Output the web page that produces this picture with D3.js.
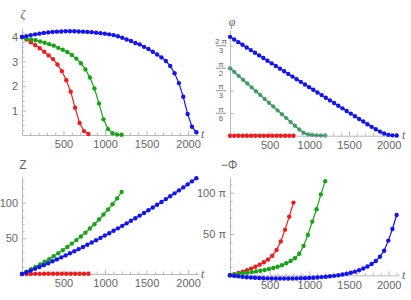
<!DOCTYPE html>
<html><head><meta charset="utf-8">
<script src="https://cdn.jsdelivr.net/npm/d3@7"></script>
<style>body{margin:0;background:#fff}svg{display:block}</style>
</head><body>
<svg id="c" width="411" height="300"></svg>
<script>
// ---------- data ----------
const tEndRed = 800, tEndGreen = 1200, tEndBlue = 2100;
const nRed = 16, nGreen = 23, nBlue = 41;
const xTicks = [500, 1000, 1500, 2000];

const zetaRed   = [4.0,3.9,3.79,3.67,3.54,3.4,3.25,3.1,2.88,2.61,2.24,1.77,1.11,0.49,0.16,0.04];
const zetaGreen = [4.0,3.93,3.9,3.87,3.82,3.77,3.71,3.65,3.56,3.48,3.39,3.27,3.12,2.93,2.68,2.35,1.9,1.29,0.64,0.24,0.07,0.02,0.01];
const zetaBlue  = [4.0,4.04,4.08,4.11,4.14,4.17,4.19,4.21,4.22,4.23,4.24,4.24,4.24,4.23,4.22,4.21,4.2,4.18,4.16,4.14,4.11,
                   4.08,4.03,3.97,3.9,3.84,3.76,3.7,3.6,3.51,3.4,3.29,3.17,3.02,2.82,2.52,2.12,1.56,0.86,0.34,0.11];
const zetaTicks = [1, 2, 3, 4];

const phiRed   = [0,0,0,0,0,0,0,0,0,0,0,0,0,0,0,0];
const phiGreen = [1.571,1.482,1.392,1.303,1.214,1.124,1.035,0.946,0.857,0.767,0.678,0.589,0.499,0.410,0.321,0.232,0.145,0.07,0.03,0.015,0.008,0.005,0.004];
const phiBlue  = [2.30,2.238,2.177,2.115,2.054,1.992,1.930,1.869,1.807,1.746,1.684,1.622,1.561,1.499,1.438,1.376,1.314,1.253,1.191,1.130,1.068,
                  1.006,0.945,0.883,0.822,0.760,0.698,0.637,0.575,0.514,0.452,0.390,0.329,0.267,0.206,0.15,0.095,0.05,0.02,0.008,0.005];
const phiTickMultiples = [1, 2, 3, 4];            // multiples of pi/6
const phiTickLabels = ["π/6", "π/3", "π/2", "2 π/3"];

const zRed   = [0,0.1,0.15,0.2,0.2,0.25,0.25,0.3,0.3,0.3,0.35,0.35,0.35,0.4,0.4,0.4];
const zGreen = [0,3.3,6.6,10.0,13.5,17.1,20.9,24.9,29.1,33.4,37.9,42.6,47.5,52.6,58.0,63.8,69.8,76.4,83.4,90.5,97.8,106,115];
const zBlue  = [0,2.4,4.8,7.3,9.9,12.4,15.1,17.8,20.5,23.3,26.1,29.0,31.9,34.9,37.9,41.0,44.2,47.3,50.6,53.9,57.2,
                60.6,64.0,67.5,71.0,74.6,78.2,81.9,85.6,89.4,93.2,97.1,101.0,105.0,109.0,113.1,117.2,121.4,125.6,129.9,134.2];
const zTicks = [50, 100];

// -Phi in units of pi
const mPhiRed   = [0,1.4,2.8,4.4,6.1,8.1,10.4,12.9,15.8,19.2,23.7,30.6,41,55,71,88];
const mPhiGreen = [0,0.8,1.6,2.4,3.1,3.9,4.7,5.5,6.4,7.6,8.8,10.4,12.1,14.5,17.3,20.6,26,35.5,48.8,65,80,98,114];
const mPhiBlue  = [0,-0.7,-1.3,-1.9,-2.3,-2.7,-3.0,-3.3,-3.5,-3.7,-3.8,-3.85,-3.9,-3.9,-3.9,-3.85,-3.75,-3.6,-3.45,-3.25,-3.0,
                   -2.65,-2.2,-1.75,-1.2,-0.65,0.1,0.9,1.9,3.0,4.4,6.1,8.2,10.7,13.7,17.4,22.5,29.8,42,56,73];
const mPhiTicks = [50, 100];
const mPhiTickLabels = ["50 π", "100 π"];

// ---------- drawing ----------
const colors = {red: "#ee1c1c", green: "#1aa31a", blue: "#1414f0"};
const axisColor = "#b8b8b8", textColor = "#666";
const font = "'Liberation Sans', Arial, sans-serif";
const tRed = d3.range(nRed).map(i => i * tEndRed / (nRed - 1));
const tGreen = d3.range(nGreen).map(i => i * tEndGreen / (nGreen - 1));
const tBlue = d3.range(nBlue).map(i => i * tEndBlue / (nBlue - 1));

const svg = d3.select("#c");

function panel(cfg) {
  const g = svg.append("g");
  const x = d3.scaleLinear().domain([0, cfg.xMax]).range(cfg.xr);
  const y = d3.scaleLinear().domain(cfg.yd).range(cfg.yr);
  const x0 = x(0), y0 = y(0);

  // x axis minor
  const xa = g.append("g").attr("transform", `translate(0,${y0})`);
  xa.call(d3.axisBottom(x).tickValues(d3.range(100, cfg.xMax, 100).filter(v => v % 500 !== 0))
      .tickSizeInner(-2.5).tickSizeOuter(0).tickFormat(""));
  xa.call(g2 => g2.select(".domain").remove());
  const xb = g.append("g").attr("transform", `translate(0,${y0})`);
  xb.call(d3.axisBottom(x).tickValues(xTicks).tickSizeInner(-4).tickSizeOuter(0).tickPadding(5.5)
      .tickFormat(d3.format("d")));
  // y axis minor + major
  const ya = g.append("g").attr("transform", `translate(${x0},0)`);
  ya.call(d3.axisLeft(y).tickValues(cfg.yMinor).tickSizeInner(-2.5).tickSizeOuter(0).tickFormat(""));
  ya.call(g2 => g2.select(".domain").remove());
  const yb = g.append("g").attr("transform", `translate(${x0},0)`);
  yb.call(d3.axisLeft(y).tickValues(cfg.yTicks).tickSizeInner(-4).tickSizeOuter(0).tickPadding(4)
      .tickFormat(cfg.yFormat || d3.format("d")));
  g.selectAll(".domain, .tick line").attr("stroke", axisColor).attr("stroke-width", 1);
  g.selectAll(".tick text").attr("fill", textColor).style("font-family", font).style("font-size", "11px");
  if (cfg.noYText) yb.selectAll(".tick text").remove();

  // axis labels
  g.append("text").attr("x", cfg.tPos[0]).attr("y", cfg.tPos[1]).text("t")
    .attr("fill", textColor).style("font-family", "'Liberation Serif', serif").style("font-style", "italic").style("font-size", "12px");
  g.append("text").attr("x", cfg.lPos[0]).attr("y", cfg.lPos[1]).attr("text-anchor", "middle").text(cfg.label)
    .attr("fill", textColor).style("font-family", cfg.labelItalic ? "'Liberation Serif', serif" : font)
    .style("font-style", cfg.labelItalic ? "italic" : "normal").style("font-size", "12px");

  // series
  const line = d3.line().x(d => x(d[0])).y(d => y(d[1]));
  cfg.series.forEach(s => {
    const pts = s.t.map((t, i) => [t, s.v[i] * (cfg.factor || 1)]);
    const dots = g.append("g");
    dots.selectAll("circle").data(pts).join("circle")
      .attr("cx", d => x(d[0])).attr("cy", d => y(d[1])).attr("r", 2.2).attr("fill", s.dot || s.c);
    g.append("path").datum(pts).attr("d", line).attr("fill", "none").attr("stroke", s.c).attr("stroke-width", 1.2);
    if (!s.dot) g.node().appendChild(dots.node());
  });
  return {g, x, y};
}

// top-left: zeta
panel({xMax: 2120, xr: [22, 198], yd: [0, 4.37], yr: [135, 28],
  yTicks: zetaTicks, yMinor: d3.range(0.2, 4.37, 0.2).filter(v => Math.abs(v - Math.round(v)) > 0.01),
  label: "ζ", labelItalic: true, lPos: [23, 18], tPos: [201, 138],
  series: [{t: tRed, v: zetaRed, c: colors.red}, {t: tGreen, v: zetaGreen, c: colors.green}, {t: tBlue, v: zetaBlue, c: colors.blue}]});

// top-right: phi
const pTR = panel({xMax: 2130, xr: [230, 399], yd: [0, 2.46], yr: [135.7, 30],
  yTicks: phiTickMultiples.map(m => m * Math.PI / 6), yMinor: [], noYText: true,
  label: "φ", labelItalic: true, lPos: [232, 26], tPos: [402, 139],
  series: [{t: tRed, v: phiRed, c: colors.red}, {t: tGreen, v: phiGreen, c: colors.green, dot: "#6f95ad"}, {t: tBlue, v: phiBlue, c: colors.blue}]});
phiTickMultiples.forEach((m, i) => {
  const yy = pTR.y(m * Math.PI / 6), cx = 221;
  const [num, den] = phiTickLabels[i].split("/");
  const st = s => s.attr("fill", textColor).attr("text-anchor", "middle").style("font-family", font).style("font-size", "8px");
  pTR.g.append("text").attr("x", cx).attr("y", yy - 1.5).text(num).call(st);
  pTR.g.append("text").attr("x", cx).attr("y", yy + 7.5).text(den).call(st);
  pTR.g.append("line").attr("x1", cx - 5).attr("x2", cx + 5).attr("y1", yy).attr("y2", yy)
    .attr("stroke", textColor).attr("stroke-width", 0.7);
});

// bottom-left: Z
panel({xMax: 2120, xr: [22, 198], yd: [0, 136], yr: [274, 177],
  yTicks: zTicks, yMinor: d3.range(10, 136, 10).filter(v => v % 50 !== 0),
  label: "Z", lPos: [23, 169], tPos: [201, 278],
  series: [{t: tRed, v: zRed, c: colors.red}, {t: tGreen, v: zGreen, c: colors.green}, {t: tBlue, v: zBlue, c: colors.blue}]});

// bottom-right: -Phi
panel({xMax: 2130, xr: [230, 399], yd: [0, 119], yr: [275.3, 177],
  yTicks: mPhiTicks, yMinor: d3.range(10, 119, 10).filter(v => v % 50 !== 0),
  yFormat: d => mPhiTickLabels[mPhiTicks.indexOf(d)],
  label: "−Φ", lPos: [229, 169], tPos: [402, 279],
  series: [{t: tRed, v: mPhiRed, c: colors.red}, {t: tGreen, v: mPhiGreen, c: colors.green}, {t: tBlue, v: mPhiBlue, c: colors.blue}]});
</script></body></html>
